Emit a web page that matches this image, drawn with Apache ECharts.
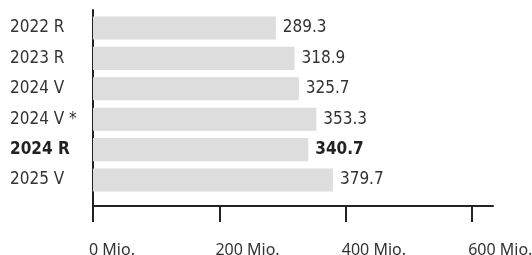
<!DOCTYPE html>
<html>
<head>
<meta charset="utf-8">
<script src="https://cdn.jsdelivr.net/npm/echarts@6/dist/echarts.min.js"></script>
<style>
  html, body { margin: 0; padding: 0; background: #fff; }
  #chart { width: 532px; height: 255px; }
</style>
</head>
<body>
<div id="chart"></div>
<script>
var categories = ['2022 R', '2023 R', '2024 V', '2024 V *', '2024 R', '2025 V'];
var values = [289.3, 318.9, 325.7, 353.3, 340.7, 379.7];
var boldCategory = '2024 R';
var tickValues = [0, 200, 400, 600];
var axisMax = 633;

var narrowFont = '"Liberation Sans Narrow", "DejaVu Sans Condensed", sans-serif';

var chart = echarts.init(document.getElementById('chart'));

var barData = values.map(function (v, i) {
    var item = { value: v };
    if (categories[i] === boldCategory) {
        item.label = { fontWeight: 'bold', color: '#222' };
    }
    return item;
});

var option = {
    backgroundColor: '#fff',
    animation: false,
    grid: [
        // frame: axis lines, ticks, tick labels
        { left: 93, right: 39, top: 10, height: 196, outerBoundsMode: 'none' },
        // bars
        { left: 93, right: 39, top: 12.8, height: 182.4, outerBoundsMode: 'none' }
    ],
    xAxis: [{
        gridIndex: 0,
        type: 'value',
        min: 0,
        max: axisMax,
        splitLine: { show: false },
        axisLine: { show: true, lineStyle: { color: '#222', width: 2 } },
        axisTick: {
            show: true,
            customValues: tickValues,
            length: 16,
            lineStyle: { color: '#222', width: 2 }
        },
        axisLabel: {
            customValues: tickValues,
            formatter: '{value} Mio.',
            align: 'left',
            margin: 36,
            padding: [0, 0, 0, -4],
            color: '#333',
            fontSize: 16,
            fontFamily: '"Noto Sans", sans-serif'
        }
    }, {
        gridIndex: 1,
        type: 'value',
        min: 0,
        max: axisMax,
        show: false
    }],
    yAxis: [{
        gridIndex: 0,
        type: 'value',
        min: 0,
        max: 1,
        splitLine: { show: false },
        axisLine: { show: true, lineStyle: { color: '#222', width: 2 } },
        axisTick: { show: false },
        axisLabel: { show: false }
    }, {
        gridIndex: 1,
        type: 'category',
        inverse: true,
        data: categories,
        axisLine: { show: false },
        axisTick: { show: false },
        axisLabel: {
            align: 'left',
            margin: 83,
            fontSize: 17,
            color: '#333',
            fontFamily: narrowFont,
            formatter: function (v) {
                return v === boldCategory ? '{b|' + v + '}' : v;
            },
            rich: {
                b: { fontWeight: 'bold', fontSize: 17, color: '#222', fontFamily: narrowFont }
            }
        }
    }],
    series: [{
        type: 'bar',
        xAxisIndex: 1,
        yAxisIndex: 1,
        data: barData,
        barCategoryGap: '24%',
        itemStyle: { color: '#dddddd' },
        label: {
            show: true,
            position: 'right',
            distance: 7,
            fontSize: 17,
            color: '#333',
            fontFamily: narrowFont,
            formatter: function (p) { return p.value.toFixed(1); }
        }
    }]
};

chart.setOption(option);
</script>
</body>
</html>
